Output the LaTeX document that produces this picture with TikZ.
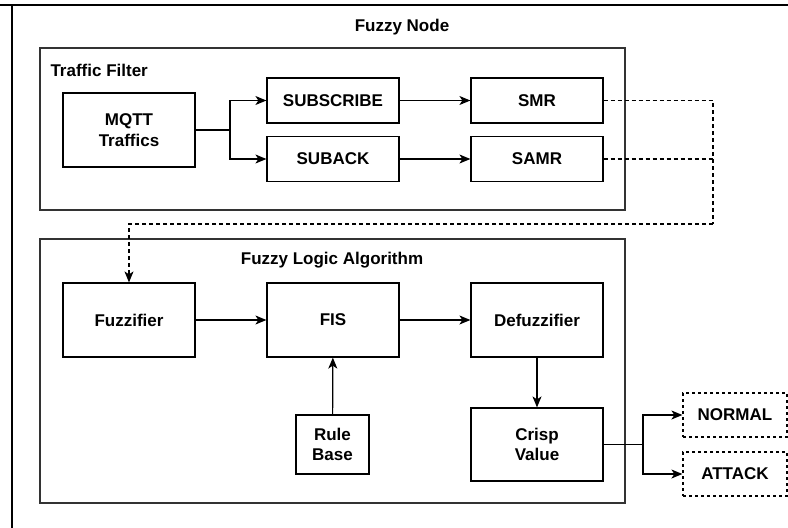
\documentclass[tikz,border=0pt]{standalone}
\usepackage{fontspec}
\setmainfont{Liberation Sans}
\usetikzlibrary{arrows.meta}
\begin{document}
\begin{tikzpicture}[x=1pt,y=-1pt,
  txt/.style={font=\bfseries\fontsize{17}{20.5}\selectfont, align=center},
  box/.style={txt, draw=black, line width=1.2pt, inner sep=0pt,
    minimum width=132pt, minimum height=45pt},
  tall/.style={box, minimum height=74pt},
  outbox/.style={box, dash pattern=on 3pt off 3pt, minimum width=104pt, minimum height=44pt},
  group/.style={draw=black!80, line width=1.6pt, inner sep=0pt},
  flow/.style={line width=1.2pt, -{Stealth[length=11pt,width=9pt,inset=3pt]}},
  link/.style={line width=1.2pt},
  dlink/.style={line width=1.2pt, dash pattern=on 4pt off 3pt}
]
\useasboundingbox (0,0) rectangle (788,528);

% page rules
\draw[line width=2.2pt] (0,5) -- (788,5);
\draw[line width=1.2pt] (12,5) -- (12,528);

% title
\node[txt] (title) at (402,27) {Fuzzy Node};

% group frames
\node[group, minimum width=585pt, minimum height=162pt] (tf) at (332.5,129) {};
\node[group, minimum width=585pt, minimum height=264pt] (fla) at (332.5,371) {};
\node[txt, anchor=west] (tflabel) at (47,70) {Traffic Filter};
\node[txt] (flalabel) at (332,260) {Fuzzy Logic Algorithm};

% traffic filter blocks
\node[tall] (mqtt) at (129,130) {MQTT\\Traffics};
\node[box] (sub) at (333,100.5) {SUBSCRIBE};
\node[box] (suback) at (333,159) {SUBACK};
\node[box] (smr) at (537,100.5) {SMR};
\node[box] (samr) at (537,159) {SAMR};

% fuzzy logic blocks
\node[tall] (fuzz) at (129,320) {Fuzzifier};
\node[tall] (fis) at (333,320) {FIS};
\node[tall] (defuzz) at (537,320) {Defuzzifier};
\node[box, minimum width=73pt, minimum height=59pt] (rule) at (332.5,444.5) {Rule\\Base};
\node[box, minimum height=73pt] (crisp) at (537,444.5) {Crisp\\Value};

% outputs
\node[outbox] (normal) at (735,415) {NORMAL};
\node[outbox] (attack) at (735,474) {ATTACK};

% filter connectors
\coordinate (split) at (230,130);
\draw[link] (mqtt.east) -- (split);
\draw[flow] (split) |- (sub.west);
\draw[flow] (split) |- (suback.west);
\draw[flow] (sub) -- (smr);
\draw[flow] (suback) -- (samr);

% dashed feed into the fuzzifier
\coordinate (rail) at (713,100.5);
\coordinate (railend) at (713,224);
\draw[dlink] (smr.east) -- (rail) -- (railend);
\draw[dlink] (samr.east) -- (samr.east -| rail);
\draw[dlink, -{Stealth[length=11pt,width=9pt,inset=3pt]}] (railend) -| (fuzz.north);

% fuzzy logic connectors
\draw[flow] (fuzz) -- (fis);
\draw[flow] (fis) -- (defuzz);
\draw[flow] (rule) -- (fis);
\draw[flow] (defuzz) -- (crisp);

% decision outputs
\coordinate (fork) at (643,444.5);
\draw[link] (crisp.east) -- (fork);
\draw[flow] (fork) |- (normal.west);
\draw[flow] (fork) |- (attack.west);
\end{tikzpicture}
\end{document}
